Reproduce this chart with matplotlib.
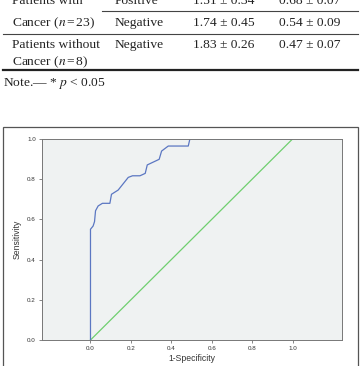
import numpy as np
import matplotlib; matplotlib.use("Agg")
import matplotlib.pyplot as plt
from matplotlib.lines import Line2D
from matplotlib.patches import Rectangle

# ---- data ----
ROC_FPR = [0.0, 0.0, 0.013, 0.020, 0.025, 0.038, 0.059, 0.096, 0.104, 0.137, 0.187,
           0.208, 0.245, 0.271, 0.281, 0.340, 0.352, 0.385, 0.484, 0.492, 1.0]
ROC_TPR = [0.0, 0.551, 0.567, 0.589, 0.643, 0.667, 0.680, 0.680, 0.725, 0.746, 0.809,
           0.817, 0.817, 0.829, 0.871, 0.899, 0.940, 0.965, 0.965, 1.0, 1.0]
REF_LINE = [0.0, 1.0]
X_TICKS = [0.0, 0.2, 0.4, 0.6, 0.8, 1.0]
Y_TICKS = [0.0, 0.2, 0.4, 0.6, 0.8, 1.0]

TABLE_ROWS = [("Patients with", "Positive", "1.51 \u00b1 0.34", "0.68 \u00b1 0.07"),
              ("Cancer ($n\\,$=$\\,$23)", "Negative", "1.74 \u00b1 0.45", "0.54 \u00b1 0.09"),
              ("Patients without", "Negative", "1.83 \u00b1 0.26", "0.47 \u00b1 0.07"),
              ("Cancer ($n\\,$=$\\,$8)", "", "", "")]
NOTE = "Note.\u2014 * $p$ < 0.05"

W, H = 362, 366
plt.rcParams["mathtext.fontset"] = "stix"
fig = plt.figure(figsize=(W / 100, H / 100), dpi=100)

def fx(px): return px / W
def fy(py): return 1 - py / H

# ---- table fragment on top ----
serif = "Liberation Serif"
col_x = [12, 115, 193, 279]
row_base = [3.5, 26, 48, 65]
for (cells, y) in zip(TABLE_ROWS, row_base):
    for c, x in zip(cells, col_x):
        if c:
            fig.text(fx(x), fy(y), c, family=serif, fontsize=9.7, va="baseline", color="#222222")
fig.text(fx(3), fy(86), NOTE, family=serif, fontsize=9.7, va="baseline", color="#222222")
fig.add_artist(Line2D([fx(102), fx(358)], [fy(11), fy(11)], color="#444444", lw=0.8))
fig.add_artist(Line2D([fx(3), fx(358)], [fy(33.5), fy(33.5)], color="#444444", lw=0.8))
fig.add_artist(Line2D([fx(3), fx(358)], [fy(70), fy(70)], color="#222222", lw=1.6))

# ---- outer frame of the figure panel ----
fig.add_artist(Rectangle((fx(3), fy(372)), fx(355), fy(127) - fy(372), fill=False,
                         edgecolor="#555555", lw=0.9))

# ---- ROC plot ----
ax = fig.add_axes([fx(42), fy(340), fx(300), fy(139) - fy(340)])
ax.set_facecolor("#eff2f2")
ax.plot(REF_LINE, REF_LINE, color="#6fcf6f", lw=0.9)
ax.plot(ROC_FPR, ROC_TPR, color="#5b77c2", lw=0.9)
ax.set_xlim(-0.24, 1.245)
ax.set_ylim(0, 1)
ax.set_xticks(X_TICKS)
ax.set_yticks(Y_TICKS)
ax.set_xticklabels([f"{t:.1f}" for t in X_TICKS], family="Liberation Sans", fontsize=4.5, color="#333333")
ax.set_yticklabels([f"{t:.1f}" for t in Y_TICKS], family="Liberation Sans", fontsize=4.5, color="#333333")
ax.tick_params(length=2.5, width=0.5, color="#555555", pad=2)
for s in ax.spines.values():
    s.set_color("#777777"); s.set_linewidth(0.7)
ax.set_xlabel("1-Specificity", family="Liberation Sans", fontsize=6.2, color="#333333", labelpad=2)
ax.set_ylabel("Sensitivity", family="Liberation Sans", fontsize=6.2, color="#333333", labelpad=4)

fig.savefig("out.png", dpi=100)
